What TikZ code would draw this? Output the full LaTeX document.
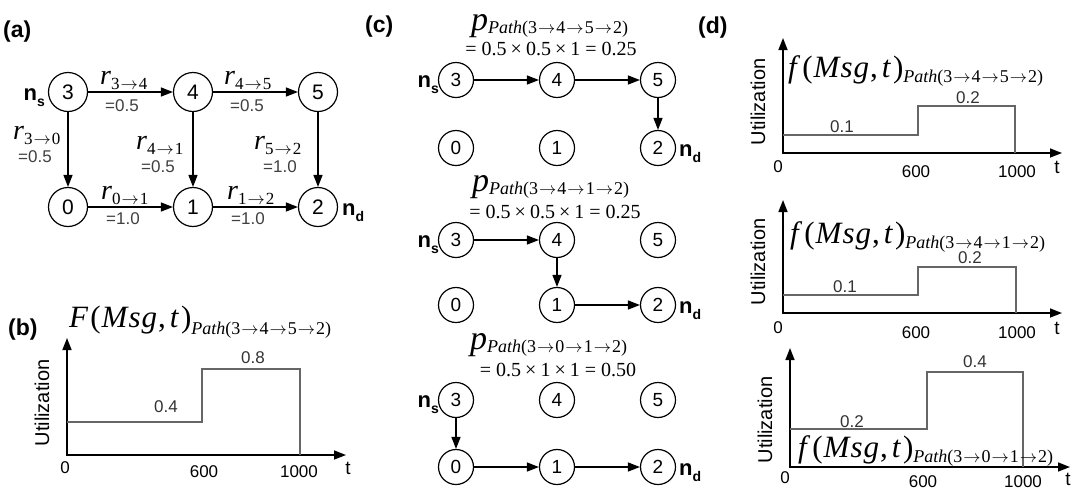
\documentclass[tikz,border=0pt]{standalone}
\usepackage{fontspec}
\setmainfont{Liberation Sans}
\newfontfamily\tms{Liberation Serif}
\usetikzlibrary{arrows.meta}
\newcommand{\sarr}{\kern1pt\ensuremath{\rightarrow}\kern1pt}
\newcommand{\rlab}[2]{{\tms\fontsize{28}{28}\selectfont\itshape r}\raisebox{-5pt}{\tms\fontsize{17}{17}\selectfont #1\sarr #2}}
\newcommand{\pathsub}[1]{{\tms\fontsize{18}{18}\selectfont\textit{Path}(#1)}}
\newcommand{\fmsg}[1]{{\tms\fontsize{31}{31}\selectfont\textit{#1}\kern2pt(\kern1pt\textit{M\kern1pt s\kern1pt g}\kern1pt,\kern4pt\textit{t}\kern2pt)}}
\newcommand{\pmsg}{{\tms\fontsize{34}{34}\selectfont\textit{p}}}
\newcommand{\nlab}[1]{{\fontsize{22}{22}\selectfont\bfseries n\raisebox{-6pt}{\fontsize{14}{14}\selectfont #1}}}
\newcommand{\eqv}[1]{{\tms\fontsize{20}{20}\selectfont #1}}
\tikzset{
  nd/.style={circle,draw,line width=1.2pt,minimum size=39pt,inner sep=0pt,font=\fontsize{21}{21}\selectfont},
  ndc/.style={nd,minimum size=35pt,font=\fontsize{19}{19}\selectfont},
  arr/.style={line width=1.5pt,-{Triangle[length=12pt,width=9pt]}},
  val/.style={font=\fontsize{17}{17}\selectfont,text=black!75,inner sep=0pt},
  tk/.style={font=\fontsize{17}{17}\selectfont,inner sep=0pt},
  axx/.style={line width=1.5pt,{Triangle[length=12pt,width=9pt]}-{Triangle[length=12pt,width=9pt]}},
  stepl/.style={line width=1.3pt,draw=black!60},
  ylab/.style={rotate=90,font=\fontsize{20}{20}\selectfont,inner sep=0pt},
  plab/.style={font=\fontsize{23}{23}\selectfont\bfseries,anchor=base west,inner sep=0pt},
  lbl/.style={anchor=base west,inner sep=0pt},
}
\begin{document}
\begin{tikzpicture}[x=1pt,y=-1pt]
\useasboundingbox (0,0) rectangle (1074,491);
% ---------- (a)
\node[plab] (la) at (3,37) {(a)};
\node[nd] (a3) at (68,92) {3};
\node[nd] (a4) at (193,92) {4};
\node[nd] (a5) at (318,92) {5};
\node[nd] (a0) at (68,207) {0};
\node[nd] (a1) at (193,207) {1};
\node[nd] (a2) at (318,207) {2};
\draw[arr] (a3) -- (a4);
\draw[arr] (a4) -- (a5);
\draw[arr] (a3) -- (a0);
\draw[arr] (a4) -- (a1);
\draw[arr] (a5) -- (a2);
\draw[arr] (a0) -- (a1);
\draw[arr] (a1) -- (a2);
\node[lbl] (r34) at (100,84) {\rlab{3}{4}};
\node[lbl] (r45) at (224,84) {\rlab{4}{5}};
\node[lbl] (r30) at (13,139) {\rlab{3}{0}};
\node[lbl] (r41) at (136,149) {\rlab{4}{1}};
\node[lbl] (r52) at (254,149) {\rlab{5}{2}};
\node[lbl] (r01) at (101,199) {\rlab{0}{1}};
\node[lbl] (r12) at (227,199) {\rlab{1}{2}};
\node[val] (v34) at (122,106) {=0.5};
\node[val] (v45) at (247,106) {=0.5};
\node[val] (v30) at (35,157) {=0.5};
\node[val] (v41) at (158,167) {=0.5};
\node[val] (v52) at (280,167) {=1.0};
\node[val] (v01) at (123,219) {=1.0};
\node[val] (v12) at (248,219) {=1.0};
\node[lbl,anchor=base east] (nsa) at (45,100) {\nlab{s}};
\node[lbl] (nda) at (342,215) {\nlab{d}};
% ---------- (b)
\node[plab] (lb) at (8,335) {(b)};
\node[lbl] (bt) at (69,327) {\fmsg{F}\raisebox{-7pt}{\pathsub{3\sarr4\sarr5\sarr2}}};
\coordinate (bO) at (67,455);
\coordinate (bY) at (67,338);
\coordinate (bX) at (346,455);
\draw[axx] (bY) -- (bO) -- (bX);
\draw[stepl] (67,422) -- (202,422) -- (202,369) -- (300,369) -- (300,455);
\node[val,text=black!80] (b04) at (166,407) {0.4};
\node[val,text=black!80] (b08) at (253,358) {0.8};
\node[tk] (b0) at (65,468) {0};
\node[tk] (b600) at (204,472) {600};
\node[tk] (b1000) at (299,472) {1000};
\node[tk,font=\fontsize{19}{19}\selectfont] (bt2) at (348,468) {t};
\node[ylab] (bu) at (42,403) {Utilization};
% ---------- (c)
\node[plab] (lc) at (365,32) {(c)};
% group 1
\node[lbl] (p1) at (471,30) {\pmsg\raisebox{-3pt}{\pathsub{3\sarr4\sarr5\sarr2}}};
\node[anchor=base,inner sep=0pt] (e1) at (551,55) {\eqv{=\kern5pt0.5\kern4pt×\kern4pt0.5\kern4pt×\kern4pt1\kern5pt=\kern5pt0.25}};
\node[ndc] (c13) at (456,80) {3};
\node[ndc] (c14) at (557,80) {4};
\node[ndc] (c15) at (658,80) {5};
\node[ndc] (c10) at (456,148) {0};
\node[ndc] (c11) at (557,148) {1};
\node[ndc] (c12) at (658,148) {2};
\draw[arr] (c13) -- (c14);
\draw[arr] (c14) -- (c15);
\draw[arr] (c15) -- (c12);
\node[lbl,anchor=base east] (cns1) at (439,87) {\nlab{s}};
\node[lbl] (cnd1) at (679,156) {\nlab{d}};
% group 2
\node[lbl] (p2) at (472,191) {\pmsg\raisebox{-3pt}{\pathsub{3\sarr4\sarr1\sarr2}}};
\node[anchor=base,inner sep=0pt] (e2) at (555,218) {\eqv{=\kern5pt0.5\kern4pt×\kern4pt0.5\kern4pt×\kern4pt1\kern5pt=\kern5pt0.25}};
\node[ndc] (c23) at (456,240) {3};
\node[ndc] (c24) at (557,240) {4};
\node[ndc] (c25) at (658,240) {5};
\node[ndc] (c20) at (456,305) {0};
\node[ndc] (c21) at (557,305) {1};
\node[ndc] (c22) at (658,305) {2};
\draw[arr] (c23) -- (c24);
\draw[arr] (c24) -- (c21);
\draw[arr] (c21) -- (c22);
\node[lbl,anchor=base east] (cns2) at (439,247) {\nlab{s}};
\node[lbl] (cnd2) at (679,313) {\nlab{d}};
% group 3
\node[lbl] (p3) at (470,349) {\pmsg\raisebox{-3pt}{\pathsub{3\sarr0\sarr1\sarr2}}};
\node[anchor=base,inner sep=0pt] (e3) at (558,376) {\eqv{=\kern5pt0.5\kern4pt×\kern4pt1\kern4pt×\kern4pt1\kern5pt=\kern5pt0.50}};
\node[ndc] (c33) at (456,400) {3};
\node[ndc] (c34) at (557,400) {4};
\node[ndc] (c35) at (658,400) {5};
\node[ndc] (c30) at (456,467) {0};
\node[ndc] (c31) at (557,467) {1};
\node[ndc] (c32) at (658,467) {2};
\draw[arr] (c33) -- (c30);
\draw[arr] (c30) -- (c31);
\draw[arr] (c31) -- (c32);
\node[lbl,anchor=base east] (cns3) at (439,407) {\nlab{s}};
\node[lbl] (cnd3) at (679,475) {\nlab{d}};
% ---------- (d)
\node[plab] (ld) at (698,33) {(d)};
% plot 1
\coordinate (d1O) at (783,153);
\coordinate (d1Y) at (783,38);
\coordinate (d1X) at (1062,153);
\draw[axx] (d1Y) -- (d1O) -- (d1X);
\draw[stepl] (783,135) -- (918,135) -- (918,106) -- (1015,106) -- (1015,153);
\node[val,text=black!80] (d1a) at (842,127) {0.1};
\node[val,text=black!80] (d1b) at (968,98) {0.2};
\node[lbl] (d1t) at (788,77) {\fmsg{f}\raisebox{-5pt}{\pathsub{3\sarr4\sarr5\sarr2}}};
\node[tk] (d10) at (778,167) {0};
\node[tk] (d1600) at (916,172) {600};
\node[tk] (d11000) at (1017,172) {1000};
\node[tk,font=\fontsize{19}{19}\selectfont] (d1tt) at (1057,167) {t};
\node[ylab] (d1u) at (758,102) {Utilization};
% plot 2
\coordinate (d2O) at (783,313);
\coordinate (d2Y) at (783,200);
\coordinate (d2X) at (1062,313);
\draw[axx] (d2Y) -- (d2O) -- (d2X);
\draw[stepl] (783,295) -- (918,295) -- (918,267) -- (1016,267) -- (1016,313);
\node[val,text=black!80] (d2a) at (845,287) {0.1};
\node[val,text=black!80] (d2b) at (970,258) {0.2};
\node[lbl] (d2t) at (790,243) {\fmsg{f}\raisebox{-5pt}{\pathsub{3\sarr4\sarr1\sarr2}}};
\node[tk] (d20) at (778,328) {0};
\node[tk] (d2600) at (916,333) {600};
\node[tk] (d21000) at (1017,333) {1000};
\node[tk,font=\fontsize{19}{19}\selectfont] (d2tt) at (1057,328) {t};
\node[ylab] (d2u) at (758,262) {Utilization};
% plot 3
\coordinate (d3O) at (790,467);
\coordinate (d3Y) at (790,348);
\coordinate (d3X) at (1070,467);
\draw[axx] (d3Y) -- (d3O) -- (d3X);
\draw[stepl] (790,429) -- (927,429) -- (927,372) -- (1023,372) -- (1023,467);
\node[val,text=black!80] (d3a) at (852,422) {0.2};
\node[val,text=black!80] (d3b) at (975,362) {0.4};
\node[lbl] (d3t) at (798,457) {\fmsg{f}\raisebox{-5pt}{\pathsub{3\sarr0\sarr1\sarr2}}};
\node[tk] (d30) at (785,478) {0};
\node[tk] (d3600) at (923,482) {600};
\node[tk] (d31000) at (1023,482) {1000};
\node[tk,font=\fontsize{19}{19}\selectfont] (d3tt) at (1068,479) {t};
\node[ylab] (d3u) at (765,420) {Utilization};
\end{tikzpicture}
\end{document}
